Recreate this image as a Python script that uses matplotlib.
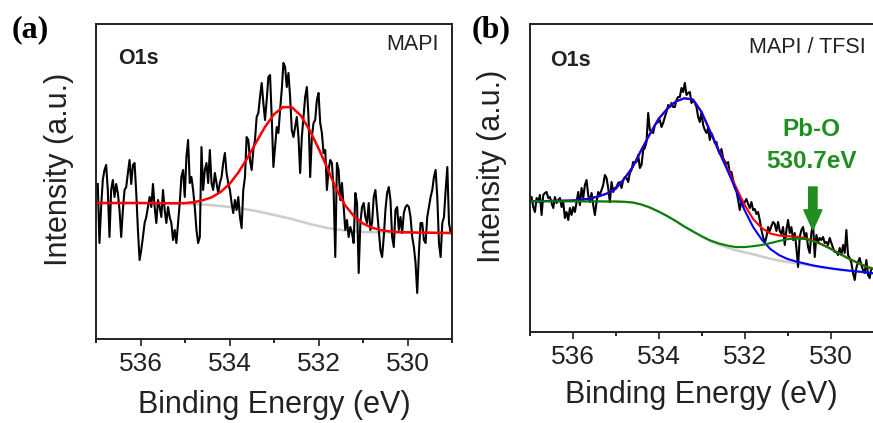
import matplotlib
matplotlib.use("Agg")
import matplotlib.pyplot as plt
import numpy as np

plt.rcParams["font.family"] = ["Liberation Sans", "DejaVu Sans"]

# ── Data ────────────────────────────────────────────────────────────────
# O1s spectrum, MAPI (panel a), intensity in a.u.
BE_A_START, BE_A_END = 536.96, 529.03
counts_a = [
    155, 96, 132, 159, 169, 174, 149, 102, 149, 159, 142, 155, 146, 129, 102, 129, 149, 152,
    166, 179, 155, 174, 176, 146, 109, 79, 89, 102, 116, 122, 132, 142, 132, 155, 132, 116,
    139, 132, 122, 149, 129, 116, 132, 122, 116, 99, 109, 96, 116, 136, 162, 169, 142, 182,
    199, 156, 162, 149, 132, 109, 96, 102, 192, 149, 169, 176, 156, 189, 156, 149, 166, 156,
    146, 156, 162, 176, 186, 166, 156, 149, 136, 126, 139, 129, 142, 122, 111, 149, 162, 202,
    199, 179, 169, 189, 199, 222, 226, 242, 256, 236, 219, 239, 262, 264, 222, 172, 192, 212,
    206, 229, 249, 276, 272, 252, 266, 242, 209, 202, 212, 222, 202, 166, 202, 222, 242, 252,
    222, 162, 202, 216, 219, 239, 246, 216, 206, 186, 189, 149, 169, 179, 176, 149, 82, 176,
    169, 139, 156, 132, 109, 119, 102, 112, 106, 96, 146, 136, 66, 116, 132, 136, 122, 116,
    136, 109, 116, 142, 149, 129, 109, 89, 82, 102, 129, 146, 152, 139, 102, 92, 129, 132,
    109, 122, 106, 126, 132, 134, 132, 122, 102, 92, 76, 46, 86, 116, 116, 99, 96, 122,
    132, 142, 149, 162, 169, 142, 96, 82, 116, 122, 149, 172, 116, 106,
]

# O1s spectrum, MAPI / TFSI (panel b)
BE_B_START, BE_B_END = 536.99, 529.05
counts_b = [
    130, 135, 125, 120, 134, 130, 137, 117, 137, 139, 140, 134, 135, 129, 124, 135, 129, 132,
    134, 125, 130, 114, 120, 112, 124, 117, 125, 120, 130, 140, 127, 144, 134, 147, 152, 137,
    130, 139, 127, 117, 130, 140, 137, 142, 147, 157, 154, 144, 130, 150, 140,
    144, 145, 149, 150, 144, 152, 155, 154, 150, 159, 162, 170, 169, 170, 177, 164, 167, 182,
    184, 190, 219, 202, 200, 199, 207, 209, 210, 212, 205, 209, 215, 220, 227, 225, 229, 225,
    225, 232, 235, 235, 244, 240, 249, 237, 239, 240, 229, 232, 229, 225, 215, 210,
    220, 207, 202, 199, 204, 192, 199, 195, 189, 190, 182, 178, 183, 174, 171, 168, 170, 159,
    160, 152, 144, 141, 132, 122, 132, 125, 130, 133, 128, 124, 130, 122, 123, 118, 120, 112,
    102, 95, 89, 95, 105, 101, 106, 110, 108, 101, 110, 101, 98, 105, 87,
    102, 112, 99, 105, 92, 99, 84, 65, 95, 102, 105, 95, 99, 85, 79, 99, 109, 75,
    97, 90, 94, 92, 95, 89, 90, 87, 94, 89, 84, 80, 80, 77, 84, 77, 87, 79,
    102, 77, 74, 69, 59, 52, 64, 70, 74, 67, 62, 59, 72, 57, 54, 64,
]

# fitted curves, sampled every 0.2 eV
fit_be = [537.0, 536.8, 536.6, 536.4, 536.2, 536.0, 535.8, 535.6, 535.4, 535.2,
          535.0, 534.8, 534.6, 534.4, 534.2, 534.0, 533.8, 533.6, 533.4, 533.2,
          533.0, 532.8, 532.6, 532.4, 532.2, 532.0, 531.8, 531.6, 531.4, 531.2,
          531.0, 530.8, 530.6, 530.4, 530.2, 530.0, 529.8, 529.6, 529.4, 529.2, 529.0]

bg_a = [136, 136, 136, 136, 136, 136, 135.8, 135.6, 135.4, 135.2,
        135, 134.8, 134.5, 133.8, 133, 132, 131, 129.5, 128, 126,
        124, 122, 120, 117.5, 115, 113, 111, 109.7, 108.5, 107.7,
        107, 106.8, 106.7, 106.6, 106.5, 106.5, 106.4, 106.3, 106.2, 106.1, 106]
peak_a = [0, 0, 0, 0, 0, 0, 0.1, 0.2, 0.4, 0.6,
          0.9, 2.0, 4.2, 7.9, 14, 23, 35.6, 51.3, 68.8, 86.2,
          100.7, 109.9, 111.8, 106.1, 94, 77.7, 59.9, 40, 25, 15,
          8.5, 4.5, 2.2, 1.0, 0.4, 0.2, 0, 0, 0, 0, 0]

bg_b = [130.7, 130.7, 130.7, 130.7, 130.7, 130.7, 130.7, 130.6, 130.6, 130.5,
        130.5, 130.2, 129.5, 127.5, 124.5, 120.5, 116, 111, 105.5, 100.5,
        95.5, 91, 87.5, 84.5, 81.7, 79.7, 77.8, 75.5, 73.3, 71.5,
        70, 68.7, 67.5, 66, 64.6, 63.4, 62.3, 61.3, 60.5, 59.5, 58.5]
main_b = [130.8, 130.9, 131, 131.2, 131.3, 131.5, 132.2, 133.5, 135.5, 138.5,
          143, 153, 165, 182, 198, 213, 223, 230.5, 233.7, 232.5,
          220, 200.5, 181, 162, 142, 122, 105, 92.5, 83, 77,
          73, 70.5, 68.5, 66.5, 65, 63.7, 62.5, 61.5, 60.7, 59.7, 58.7]
pbo_b = [0, 0, 0, 0, 0, 0, 0, 0, 0, 0,
         0, 0, 0, 0, 0, 0, 0, 0, 0, 0.1,
         0.3, 0.6, 1.1, 1.9, 3.2, 5.2, 8.0, 11.5, 15.5, 19.5,
         22.8, 24.8, 25.5, 24.8, 22.8, 19.8, 16.2, 12.5, 9.2, 6.4, 4.2]

PBO_BE = 530.41  # arrow position
GREEN = "#1f8f1f"
TEXT = "#222222"


def style_axis(ax, top):
    ax.set_xlim(537, 529)
    ax.set_ylim(0, top)
    ax.set_xticks([536, 534, 532, 530])
    ax.set_xticks([537, 535, 533, 531, 529], minor=True)
    ax.set_yticks([])
    ax.tick_params(axis="x", which="major", direction="out", length=5, width=1.2,
                   labelsize=19, pad=4, colors=TEXT)
    ax.tick_params(axis="x", which="minor", direction="out", length=3, width=1.2)
    for sp in ax.spines.values():
        sp.set_linewidth(1.4)
        sp.set_color(TEXT)
    ax.set_xlabel("Binding Energy (eV)", fontsize=22, color=TEXT, va="center")
    ax.set_ylabel("Intensity (a.u.)", fontsize=22, color=TEXT, va="center")


fig = plt.figure(figsize=(8.73, 4.23), dpi=100)

# ── (a) MAPI ────────────────────────────────────────────────────────────
ax1 = fig.add_axes([96 / 873, 84 / 423, 356 / 873, 315 / 423])
be_a = np.linspace(BE_A_START, BE_A_END, len(counts_a))
fit = np.array(fit_be)
ax1.plot(fit, bg_a, color="#cccccc", lw=1.8)
ax1.plot(be_a, counts_a, color="black", lw=1.5)
ax1.plot(fit, np.array(bg_a) + np.array(peak_a), color="#ff0000", lw=1.8)
style_axis(ax1, 315)
ax1.xaxis.set_label_coords(0.5, -0.2095)
ax1.yaxis.set_label_coords(-0.105, 0.537)
ax1.text(0.062, 0.892, "O1s", transform=ax1.transAxes, fontsize=15.5,
         fontweight="bold", ha="left", va="center", color=TEXT)
ax1.text(0.9635, 0.9365, "MAPI", transform=ax1.transAxes, fontsize=15.5,
         ha="right", va="center", color=TEXT)

# ── (b) MAPI / TFSI ─────────────────────────────────────────────────────
ax2 = fig.add_axes([529.5 / 873, 91 / 423, 344 / 873, 308 / 423])
be_b = np.linspace(BE_B_START, BE_B_END, len(counts_b))
bg = np.array(bg_b)
main = np.array(main_b)
pbo = np.array(pbo_b)
ax2.plot(fit, bg, color="#cccccc", lw=1.8)
ax2.plot(be_b, counts_b, color="black", lw=1.5)
ax2.plot(fit, main + pbo, color="#ff0000", lw=1.5)
ax2.plot(fit, main, color="#0000ff", lw=1.5)
ax2.plot(fit, bg + pbo, color="#008000", lw=1.5)
style_axis(ax2, 308)
ax2.xaxis.set_label_coords(0.5, -0.2045)
ax2.yaxis.set_label_coords(-0.1076, 0.537)
ax2.text(0.06, 0.883, "O1s", transform=ax2.transAxes, fontsize=15.5,
         fontweight="bold", ha="left", va="center", color=TEXT)
ax2.text(0.978, 0.924, "MAPI / TFSI", transform=ax2.transAxes, fontsize=15.5,
         ha="right", va="center", color=TEXT)
ax2.text(530.45, 202, "Pb-O", fontsize=17.5, fontweight="bold", color=GREEN,
         ha="center", va="center")
ax2.text(530.45, 171, "530.7eV", fontsize=17.5, fontweight="bold", color=GREEN,
         ha="center", va="center")
ax2.annotate("", xy=(PBO_BE, 102), xytext=(PBO_BE, 145),
             arrowprops=dict(arrowstyle="simple,head_length=1.45,head_width=1.3,tail_width=0.6",
                             mutation_scale=10, color=GREEN, shrinkA=0, shrinkB=0))

# panel letters
fig.text(12 / 873, 1 - 30 / 423, "(a)", family="Liberation Serif", fontweight="bold",
         fontsize=23, ha="left", va="center")
fig.text(472 / 873, 1 - 30 / 423, "(b)", family="Liberation Serif", fontweight="bold",
         fontsize=23, ha="left", va="center")

fig.savefig("out.png", dpi=100)
